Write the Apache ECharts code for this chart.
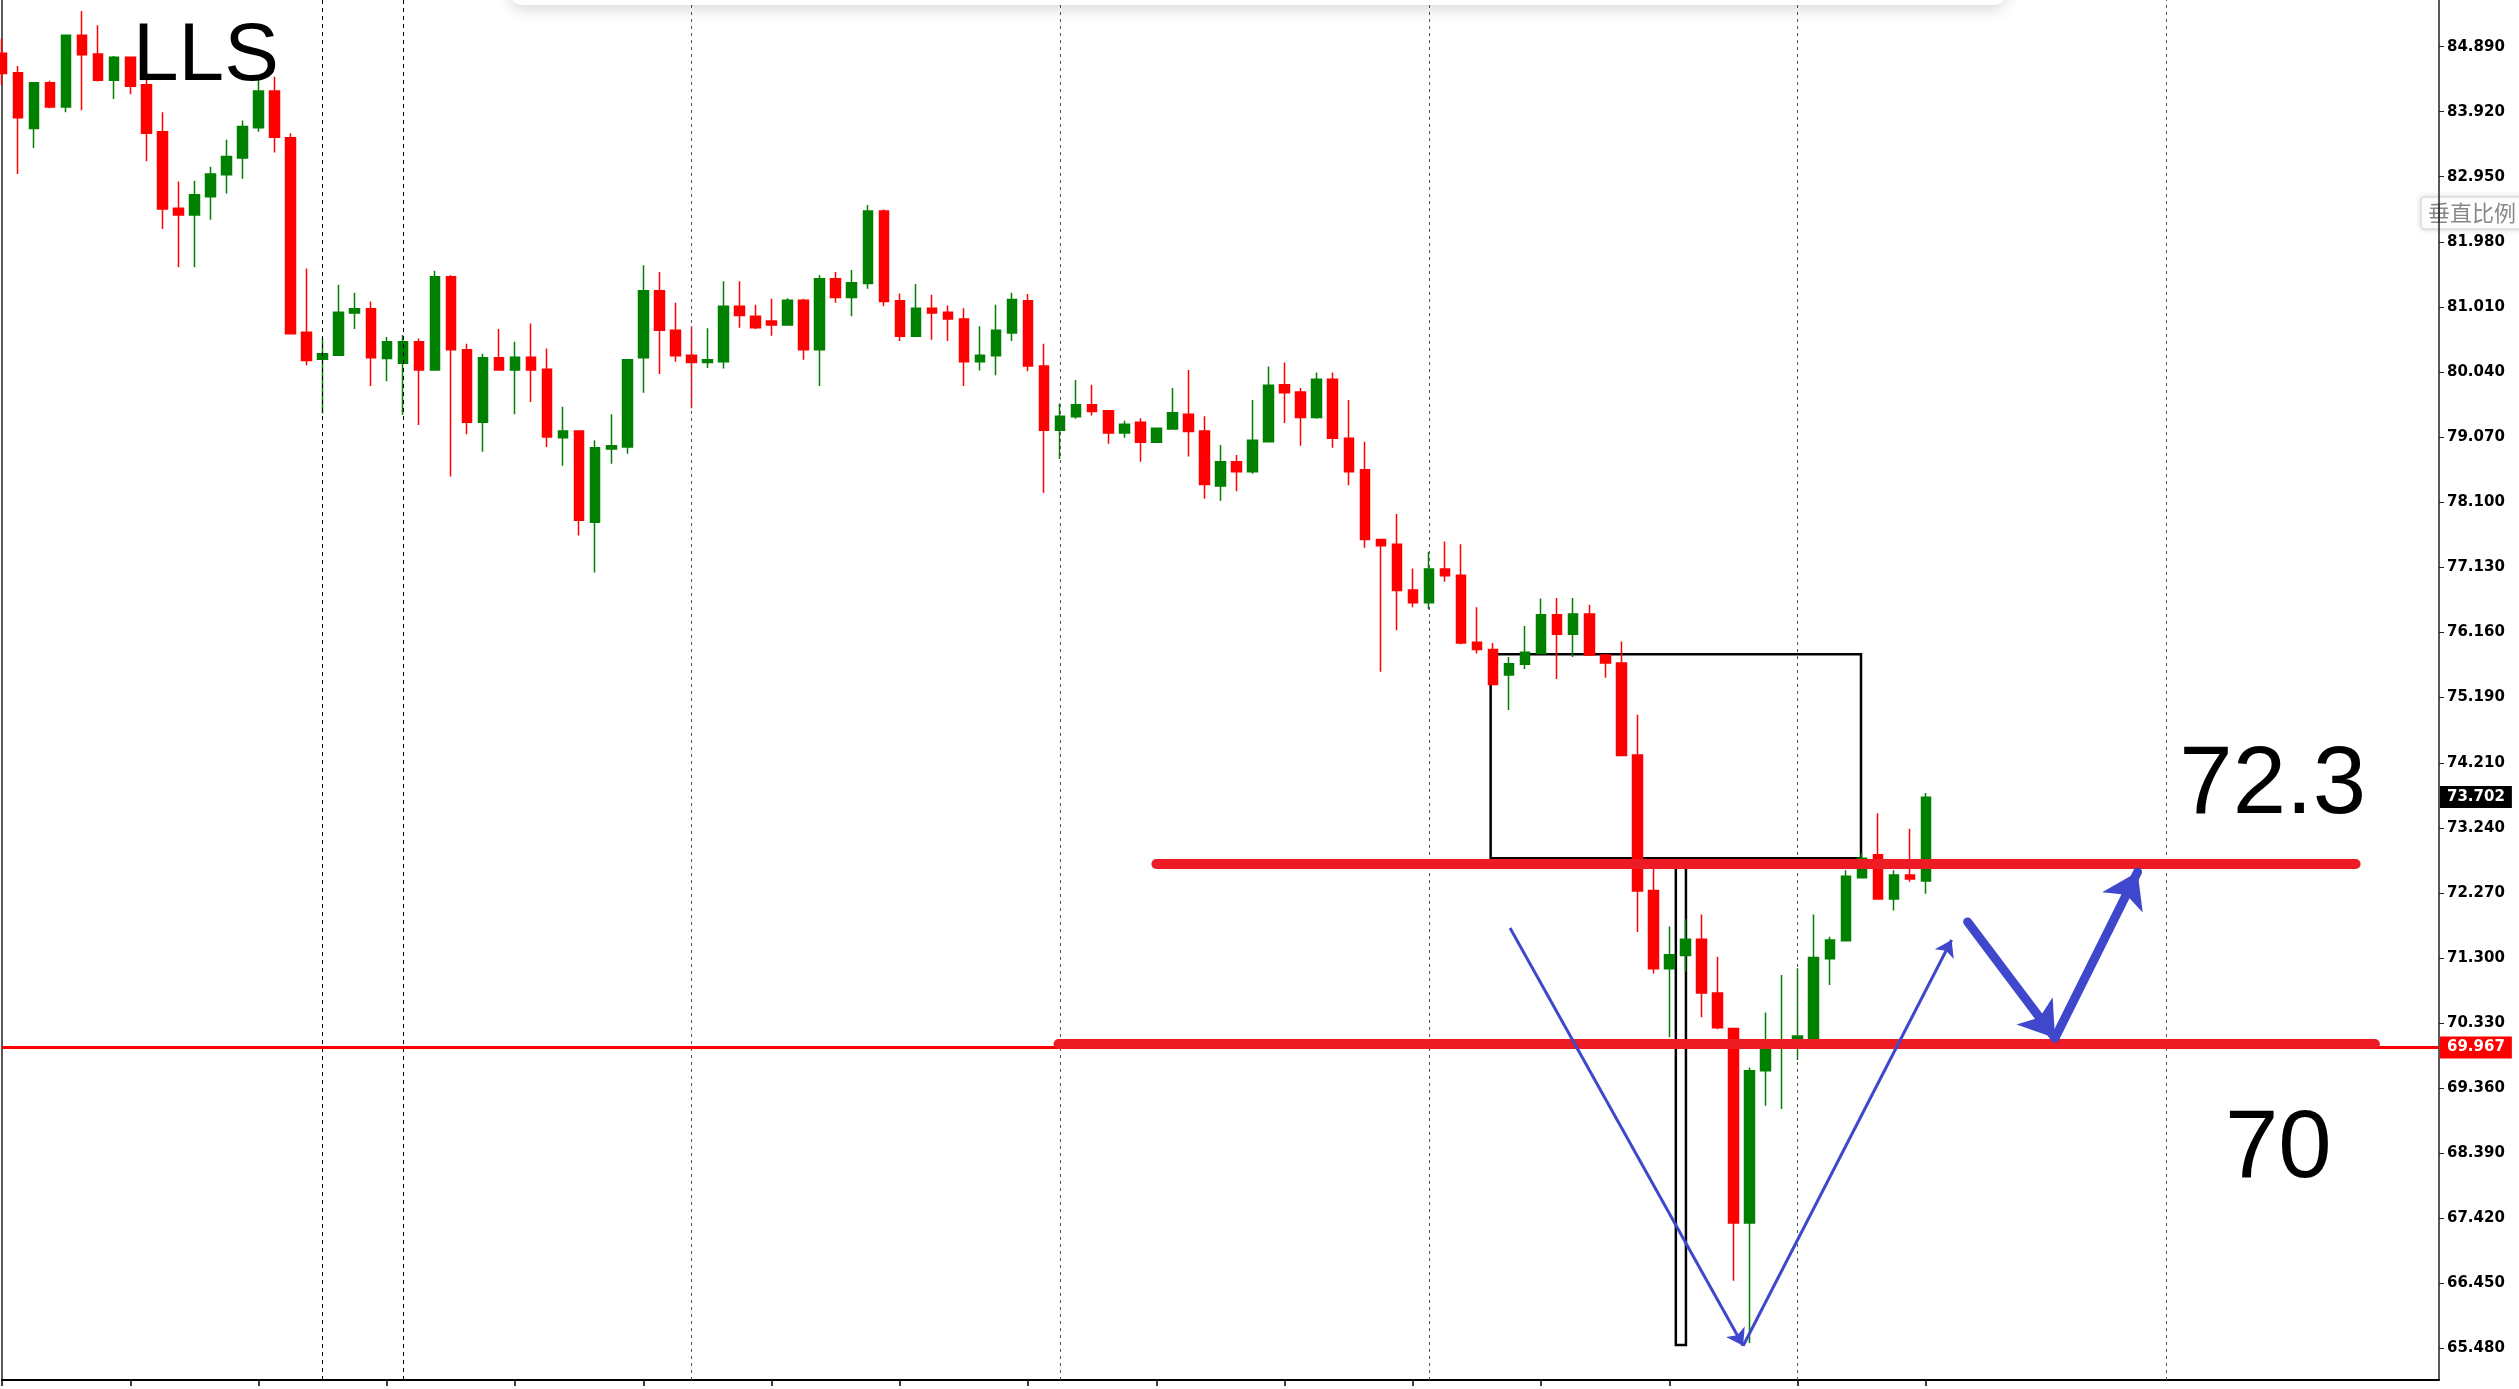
<!DOCTYPE html>
<html>
<head>
<meta charset="utf-8">
<title>LLS</title>
<script src="https://cdn.jsdelivr.net/npm/echarts@6/dist/echarts.min.js"></script>
<style>
  html, body { margin: 0; padding: 0; background: #fff; overflow: hidden; }
  #chart { width: 2519px; height: 1389px; }
</style>
</head>
<body>
<div id="chart"></div>
<script>
// LLS candles, oldest first
const opens = [
  84.79, 84.50, 83.67, 84.35, 83.99, 85.06, 84.78, 84.39, 84.73, 84.32,
  83.62, 82.48, 82.38, 82.65, 82.98, 83.23, 83.68, 84.23, 83.53, 80.63,
  80.23, 80.29, 80.92, 80.98, 80.24, 80.17, 80.49, 80.07, 81.46, 80.37,
  79.29, 80.25, 80.07, 80.26, 80.08, 79.06, 79.16, 77.80, 78.89, 78.92,
  80.25, 81.25, 80.66, 80.29, 80.18, 80.19, 81.02, 80.87, 80.80, 80.74,
  81.11, 80.37, 81.43, 81.15, 81.36, 82.44, 81.10, 80.57, 80.99, 80.93,
  80.83, 80.19, 80.28, 80.62, 81.10, 80.13, 79.17, 79.37, 79.55, 79.46,
  79.13, 79.29, 78.99, 79.19, 79.41, 79.16, 78.34, 78.70, 78.55, 79.00,
  79.85, 79.74, 79.36, 79.93, 79.05, 78.58, 77.54, 77.47, 76.79, 76.60,
  77.10, 77.01, 76.01, 75.90, 75.52, 75.68, 75.84, 76.42, 76.13, 76.43,
  75.82, 75.70, 74.33, 72.31, 71.14, 71.34, 71.58, 70.78, 70.25, 67.35,
  69.62, 69.98, 70.05, 70.10, 71.29, 71.56, 72.50, 72.84, 72.18, 72.54,
  72.45
];
const closes = [
  84.49, 83.83, 84.35, 83.99, 85.06, 84.77, 84.39, 84.73, 84.30, 83.60,
  82.47, 82.38, 82.68, 82.99, 83.25, 83.70, 84.23, 83.54, 80.61, 80.21,
  80.31, 80.93, 80.98, 80.25, 80.49, 80.49, 80.07, 81.46, 80.37, 79.29,
  80.25, 80.07, 80.26, 80.07, 79.07, 79.16, 77.83, 78.91, 78.94, 80.22,
  81.25, 80.66, 80.28, 80.18, 80.22, 81.02, 80.88, 80.70, 80.74, 81.11,
  80.37, 81.43, 81.15, 81.37, 82.44, 81.09, 80.57, 80.99, 80.92, 80.83,
  80.19, 80.29, 80.66, 81.12, 80.13, 79.17, 79.38, 79.55, 79.45, 79.13,
  79.26, 78.99, 79.20, 79.43, 79.15, 78.36, 78.70, 78.55, 79.02, 79.84,
  79.73, 79.36, 79.93, 79.05, 78.55, 77.54, 77.45, 76.78, 76.60, 77.10,
  77.00, 76.00, 75.90, 75.38, 75.69, 75.86, 76.42, 76.13, 76.43, 75.82,
  75.70, 74.32, 72.30, 71.14, 71.35, 71.58, 70.78, 70.26, 67.35, 69.62,
  69.95, 70.08, 70.14, 71.31, 71.57, 72.52, 72.79, 72.18, 72.54, 72.48,
  73.70
];
const lows = [
  84.32, 82.99, 83.38, 83.97, 83.91, 83.94, 84.37, 84.11, 84.18, 83.18,
  82.17, 81.60, 81.60, 82.31, 82.70, 82.92, 83.62, 83.31, 80.61, 80.14,
  79.42, 80.28, 80.68, 79.83, 79.90, 79.40, 79.25, 80.06, 78.48, 79.11,
  78.85, 80.06, 79.41, 79.59, 78.92, 78.64, 77.60, 77.05, 78.67, 78.82,
  79.73, 80.01, 80.19, 79.50, 80.10, 80.09, 80.70, 80.68, 80.58, 80.73,
  80.22, 79.83, 81.07, 80.87, 81.28, 81.02, 80.50, 80.57, 80.52, 80.50,
  79.83, 80.06, 79.99, 80.50, 80.05, 78.24, 78.74, 79.34, 79.39, 78.97,
  79.06, 78.70, 78.99, 79.18, 78.78, 78.15, 78.12, 78.26, 78.52, 78.99,
  79.28, 78.94, 79.34, 78.91, 78.35, 77.42, 75.57, 76.19, 76.53, 76.50,
  76.91, 75.98, 75.84, 75.38, 75.00, 75.61, 75.84, 75.46, 75.79, 75.82,
  75.48, 74.32, 71.69, 71.07, 70.12, 71.10, 70.42, 70.24, 66.49, 65.56,
  69.10, 69.05, 69.78, 70.10, 70.90, 71.55, 72.49, 72.18, 72.01, 72.44,
  72.26
];
const highs = [
  85.01, 84.60, 84.35, 84.38, 85.06, 85.42, 85.21, 84.75, 84.73, 84.52,
  83.91, 82.88, 82.89, 83.10, 83.50, 83.79, 84.44, 84.44, 83.60, 81.58,
  80.54, 81.34, 81.22, 81.09, 80.56, 80.59, 80.54, 81.55, 81.48, 80.46,
  80.31, 80.68, 80.49, 80.76, 80.39, 79.52, 79.17, 79.02, 79.41, 80.23,
  81.63, 81.53, 81.07, 80.72, 80.69, 81.39, 81.39, 81.04, 81.13, 81.14,
  81.13, 81.48, 81.53, 81.56, 82.53, 82.46, 81.21, 81.35, 81.19, 81.03,
  80.99, 80.72, 81.04, 81.22, 81.20, 80.46, 79.57, 79.92, 79.85, 79.46,
  79.31, 79.35, 79.20, 79.80, 80.07, 79.38, 78.95, 78.80, 79.62, 80.12,
  80.18, 79.80, 80.03, 80.03, 79.62, 79.00, 77.54, 77.92, 77.11, 77.36,
  77.51, 77.47, 76.53, 76.00, 75.79, 76.25, 76.66, 76.67, 76.67, 76.57,
  75.82, 76.02, 74.93, 72.69, 71.77, 71.88, 71.95, 71.32, 70.25, 69.67,
  70.49, 71.05, 71.15, 71.95, 71.62, 72.61, 72.87, 73.46, 72.61, 73.23,
  73.76
];

// bar slots on the time axis (candles + empty space on the right)
const slotCount = 153;
const slots = Array.from({ length: slotCount }, (_, i) => String(i));

// right price scale labels
const priceTicks = [
  65.48, 66.45, 67.42, 68.39, 69.36, 70.33, 71.30, 72.27, 73.24, 74.21,
  75.19, 76.16, 77.13, 78.10, 79.07, 80.04, 81.01, 81.98, 82.95, 83.92, 84.89
];
const lastPrice = 73.702;
const bidLine = 69.967;

// period separators (bar index)
const separatorsDark = [20, 25];
const separatorsLight = [43, 66, 89, 112, 135];

// drawn objects, in [bar index, price]
const supportLines = [
  [[72.0, 72.70], [146.8, 72.70]],
  [[65.9, 70.03], [148.0, 70.03]]
];
const thinArrows = [
  [[94.06, 71.75], [108.6, 65.52]],
  [[108.6, 65.52], [121.6, 71.57]]
];
const thickArrows = [
  [[122.6, 71.84], [128.05, 70.11]],
  [[128.05, 70.11], [133.2, 72.585]]
];
const boxes = [
  [[92.85, 75.83], [115.95, 72.79]],
  [[104.4, 72.79], [105.03, 65.53]]
];
const notes = [
  { text: '72.3', at: [135.8, 74.58] },
  { text: '70', at: [138.65, 69.15] }
];

const candles = opens.map((o, i) => [o, closes[i], lows[i], highs[i]]);

const chart = echarts.init(document.getElementById('chart'), null, { renderer: 'canvas' });

const priceTag = (bg) => ({
  show: true,
  position: 'end',
  distance: 1,
  formatter: (p) => Number(p.value).toFixed(3),
  color: '#fff',
  backgroundColor: bg,
  padding: [4, 7, 3, 7],
  fontSize: 15,
  fontWeight: 'bold',
  fontFamily: 'DejaVu Sans'
});

const option = {
  animation: false,
  backgroundColor: '#ffffff',
  grid: {
    left: 2,
    right: 80,
    top: 0,
    bottom: 9,
    containLabel: false,
    outerBoundsMode: 'none'
  },
  xAxis: [
    {
      type: 'category',
      data: slots,
      boundaryGap: false,
      axisLine: { show: true, lineStyle: { color: '#000', width: 2 } },
      axisTick: {
        show: true,
        length: 6,
        interval: (idx) => idx % 8 === 0 && idx < opens.length,
        lineStyle: { color: '#000', width: 1.5 }
      },
      axisLabel: { show: false },
      splitLine: { show: false }
    },
    {
      type: 'value',
      min: 0,
      max: slotCount - 1,
      show: false,
      axisLine: { show: false },
      axisTick: { show: false },
      axisLabel: { show: false },
      splitLine: { show: false }
    }
  ],
  yAxis: [
    {
      type: 'value',
      position: 'right',
      min: 65.01,
      max: 85.585,
      axisLine: { show: true, onZero: false, lineStyle: { color: '#222', width: 1.5 } },
      axisTick: {
        show: true,
        length: 5,
        customValues: priceTicks,
        lineStyle: { color: '#222' }
      },
      axisLabel: {
        show: true,
        customValues: priceTicks,
        margin: 8,
        color: '#000',
        fontSize: 15,
        fontWeight: 'bold',
        fontFamily: 'DejaVu Sans',
        formatter: (v) => v.toFixed(3)
      },
      splitLine: { show: false }
    },
    {
      // plain left frame line
      type: 'value',
      position: 'left',
      min: 65.01,
      max: 85.585,
      axisLine: { show: true, onZero: false, lineStyle: { color: '#222', width: 1.5 } },
      axisTick: { show: false },
      axisLabel: { show: false },
      splitLine: { show: false }
    }
  ],
  series: [
    {
      // period separators
      type: 'line',
      xAxisIndex: 1,
      yAxisIndex: 0,
      data: [],
      z: 1,
      silent: true,
      markLine: {
        silent: true,
        symbol: ['none', 'none'],
        label: { show: false },
        data: separatorsDark.map((x) => ({
          xAxis: x,
          lineStyle: { color: '#000', width: 1, type: [4, 4] }
        })).concat(separatorsLight.map((x) => ({
          xAxis: x,
          lineStyle: { color: '#555', width: 1, type: [3, 4] }
        })))
      }
    },
    {
      type: 'candlestick',
      name: 'LLS',
      xAxisIndex: 0,
      yAxisIndex: 0,
      data: candles,
      barWidth: 10,
      z: 2,
      itemStyle: {
        color: '#008000',
        color0: '#ff0000',
        borderColor: '#008000',
        borderColor0: '#ff0000',
        borderWidth: 1.5
      },
      markLine: {
        silent: true,
        symbol: ['none', 'none'],
        precision: 3,
        data: [
          {
            yAxis: bidLine,
            lineStyle: { color: '#ff0000', width: 3, type: 'solid' },
            label: priceTag('#ff0000')
          },
          {
            yAxis: lastPrice,
            lineStyle: { color: 'rgba(0,0,0,0)', width: 0 },
            label: priceTag('#000000')
          }
        ]
      }
    },
    {
      // drawn boxes
      type: 'line',
      xAxisIndex: 1,
      yAxisIndex: 0,
      data: [],
      z: 4,
      silent: true,
      markArea: {
        silent: true,
        itemStyle: { color: 'rgba(0,0,0,0)', borderColor: '#000', borderWidth: 2.5 },
        data: boxes.map((b) => [{ coord: b[0] }, { coord: b[1] }])
      }
    },
    {
      type: 'lines',
      coordinateSystem: 'cartesian2d',
      xAxisIndex: 1,
      yAxisIndex: 0,
      z: 5,
      silent: true,
      symbol: ['none', 'none'],
      lineStyle: { color: '#ed1c24', width: 10, opacity: 1, cap: 'round' },
      data: supportLines.map((c) => ({ coords: c }))
    },
    {
      type: 'lines',
      coordinateSystem: 'cartesian2d',
      xAxisIndex: 1,
      yAxisIndex: 0,
      z: 6,
      silent: true,
      symbol: ['none', 'arrow'],
      symbolSize: 16,
      lineStyle: { color: '#3f48cc', width: 3, opacity: 1 },
      data: thinArrows.map((c) => ({ coords: c }))
    },
    {
      type: 'lines',
      coordinateSystem: 'cartesian2d',
      xAxisIndex: 1,
      yAxisIndex: 0,
      z: 6,
      silent: true,
      symbol: ['none', 'arrow'],
      symbolSize: 34,
      lineStyle: { color: '#3f48cc', width: 9, opacity: 1, cap: 'round' },
      data: thickArrows.map((c) => ({ coords: c }))
    }
  ]
};

chart.setOption(option);

// text labels anchored to chart coordinates
const toPx = (pt) => chart.convertToPixel({ xAxisIndex: 1, yAxisIndex: 0 }, pt);

const graphics = notes.map((n) => {
  const p = toPx(n.at);
  return {
    type: 'text',
    x: p[0],
    y: p[1],
    z: 20,
    silent: true,
    style: {
      text: n.text,
      font: '96px "Liberation Sans", Arial, sans-serif',
      fill: '#000',
      textAlign: 'left',
      textVerticalAlign: 'top'
    }
  };
});

graphics.push(
  {
    type: 'text',
    x: 133,
    y: 16,
    z: 20,
    silent: true,
    style: {
      text: 'LLS',
      font: '82px "Liberation Sans", Arial, sans-serif',
      fill: '#000',
      textAlign: 'left',
      textVerticalAlign: 'top'
    }
  },
  {
    // floating toolbar peeking in at the top
    type: 'rect',
    z: 30,
    silent: true,
    shape: { x: 511, y: -40, width: 1494, height: 45, r: 10 },
    style: { fill: '#fff', shadowBlur: 16, shadowColor: 'rgba(0,0,0,0.16)', shadowOffsetY: 4 }
  },
  {
    type: 'group',
    x: 2421,
    y: 197,
    z: 30,
    silent: true,
    children: [
      {
        type: 'rect',
        shape: { x: 0, y: 0, width: 110, height: 32, r: 3 },
        style: { fill: '#fff', stroke: '#d0d0d0', lineWidth: 1, shadowBlur: 6, shadowColor: 'rgba(0,0,0,0.15)' }
      },
      {
        type: 'text',
        x: 7,
        y: 16,
        style: {
          text: '垂直比例',
          font: '22px "Noto Sans CJK SC", sans-serif',
          fill: '#888',
          textAlign: 'left',
          textVerticalAlign: 'middle'
        }
      }
    ]
  }
);

chart.setOption({ graphic: graphics });
</script>
</body>
</html>
